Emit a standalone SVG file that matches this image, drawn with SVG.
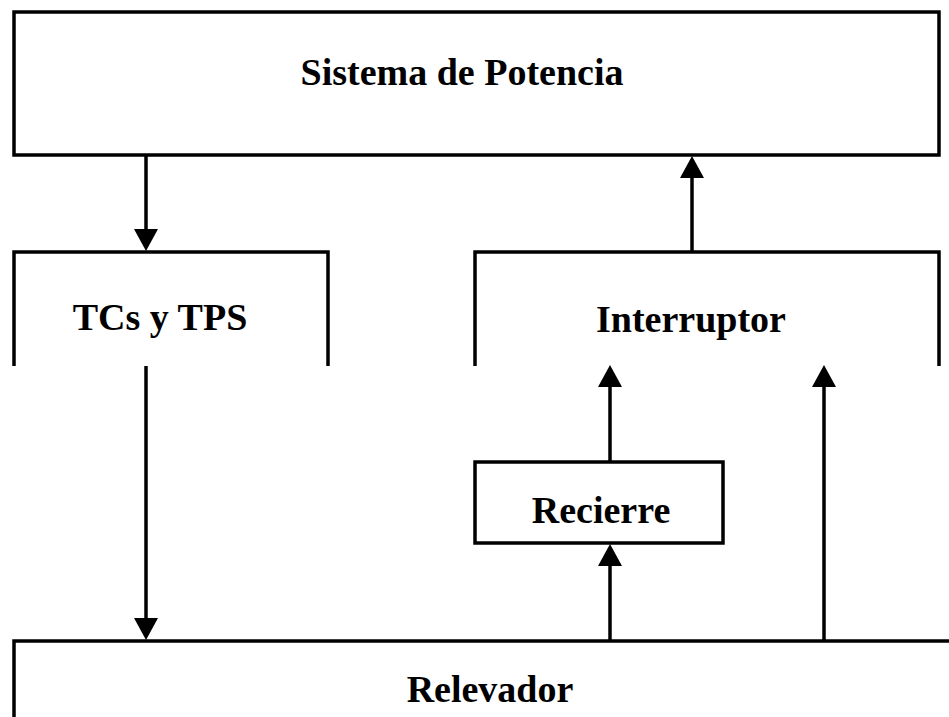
<svg xmlns="http://www.w3.org/2000/svg" width="949" height="717" viewBox="0 0 949 717">
<style>
.box{fill:none;stroke:#000;stroke-width:3.5;stroke-linejoin:miter}
.lbl{font-family:"Liberation Serif","Times New Roman",serif;font-weight:bold;font-size:38px;fill:#000;text-anchor:middle}
.conn{stroke:#000;stroke-width:3.5;fill:none;marker-end:url(#ah)}
</style>
<defs>
<marker id="ah" markerUnits="userSpaceOnUse" markerWidth="24" markerHeight="24" refX="0" refY="12" orient="auto" overflow="visible">
<path d="M0,0 L22,12 L0,24 Z" fill="#000"/>
</marker>
</defs>
<rect width="949" height="717" fill="#fff"/>
<g id="sistema">
<rect class="box" x="14" y="12" width="925" height="143"/>
<text class="lbl" x="462" y="85">Sistema de Potencia</text>
</g>
<g id="tcs">
<path class="box" d="M14,366 V252 H328 V366"/>
<text class="lbl" x="160" y="330">TCs y TPS</text>
</g>
<g id="interruptor">
<path class="box" d="M475,366 V252 H939 V366"/>
<text class="lbl" x="691" y="332">Interruptor</text>
</g>
<g id="recierre">
<rect class="box" x="475" y="462" width="248" height="81"/>
<text class="lbl" x="601" y="523">Recierre</text>
</g>
<g id="relevador">
<path class="box" d="M14,725 V641 H955"/>
<text class="lbl" x="490" y="702">Relevador</text>
</g>
<g id="connectors">
<line class="conn" x1="146" y1="155" x2="146" y2="229"/>
<line class="conn" x1="692" y1="252" x2="692" y2="178"/>
<line class="conn" x1="146" y1="366" x2="146" y2="618"/>
<line class="conn" x1="610" y1="462" x2="610" y2="387"/>
<line class="conn" x1="824" y1="641" x2="824" y2="387"/>
<line class="conn" x1="610" y1="641" x2="610" y2="566"/>
</g>
</svg>
